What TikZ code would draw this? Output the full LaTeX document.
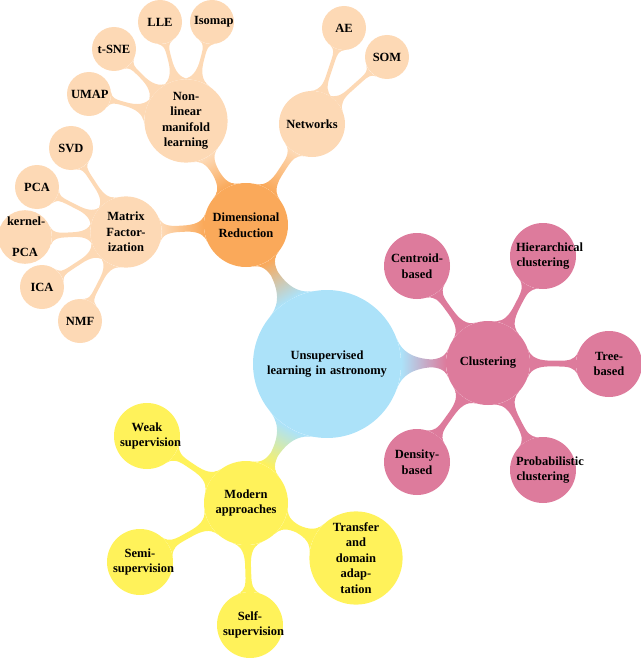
\documentclass[tikz,border=0pt]{standalone}
\usepackage{fontspec}
\setmainfont{Liberation Serif}
\usetikzlibrary{mindmap}
\definecolor{cblue}{RGB}{172,226,249}
\definecolor{corange}{RGB}{250,169,90}
\definecolor{cpeach}{RGB}{253,217,181}
\definecolor{cpink}{RGB}{221,123,156}
\definecolor{cyellow}{RGB}{255,242,90}
\tikzset{
  bubble/.style={circle, inner sep=1.5pt, align=center, text=black,
    font=\fontsize{12.5}{15.5}\selectfont\bfseries},
  rootc/.style={bubble, fill=cblue, minimum size=148pt, text width=122pt},
  lvone/.style={bubble, minimum size=84pt, text width=72pt},
  lvtwo/.style={bubble, minimum size=66pt, text width=54pt},
  lvsmall/.style={bubble, minimum size=44pt, text width=36pt, inner sep=0pt, fill=cpeach},
  bar/.style args={#1/#2/#3}{circle connection bar switch color=from (#1) to (#2), line width=#3}
}
\begin{document}
\begin{tikzpicture}[x=1pt,y=1pt]
\useasboundingbox (0,0) rectangle (640,-658);
% root
\node[rootc] (root) at (327,-364) {Unsupervised\\learning in astronomy};
% level 1
\node[lvone, fill=corange] (dim) at (246,-225) {Dimensional\\Reduction};
\node[lvone, fill=cpink] (clus) at (488,-363) {Clustering};
\node[lvone, fill=cyellow] (mod) at (246,-503) {Modern\\approaches};
% level 2 (dimensional reduction)
\node[lvtwo, fill=cpeach] (nonlin) at (186,-121) {Non-\\linear\\manifold\\learning};
\node[lvtwo, fill=cpeach] (net) at (312,-124) {Networks};
\node[lvtwo, fill=cpeach] (mat) at (126,-232) {Matrix\\Factor-\\ization};
% level 3
\node[lvsmall] (lle) at (160,-22) {LLE};
\node[lvsmall] (iso) at (212,-22) {Isomap};
\node[lvsmall] (tsne) at (114,-49) {t-SNE};
\node[lvsmall] (umap) at (89,-94) {UMAP};
\node[lvsmall] (ae) at (344,-28) {AE};
\node[lvsmall] (som) at (387,-57) {SOM};
\node[lvsmall] (svd) at (71,-148) {SVD};
\node[lvsmall] (pca) at (37,-187) {PCA};
\node[lvsmall] (kpca) at (25,-237) {kernel-\\PCA};
\node[lvsmall] (ica) at (42,-287) {ICA};
\node[lvsmall] (nmf) at (80,-321) {NMF};
% clustering children
\node[lvtwo, fill=cpink] (cen) at (417,-266) {Centroid-\\based};
\node[lvtwo, fill=cpink] (hier) at (543,-256) {Hierarchical\\clustering};
\node[lvtwo, fill=cpink] (tree) at (609,-364) {Tree-\\based};
\node[lvtwo, fill=cpink] (dens) at (417,-462) {Density-\\based};
\node[lvtwo, fill=cpink] (prob) at (543,-470) {Probabilistic\\clustering};
% modern children
\node[lvtwo, fill=cyellow] (weak) at (147,-436) {Weak\\supervision};
\node[lvtwo, fill=cyellow] (semi) at (140,-562) {Semi-\\supervision};
\node[lvtwo, fill=cyellow] (self) at (250,-625) {Self-\\supervision};
\node[lvtwo, fill=cyellow] (trans) at (356,-558) {Transfer\\and\\domain\\adap-\\tation};
% connections
\path (root) to[bar=cblue/corange/12pt] (dim);
\path (root) to[bar=cblue/cpink/12pt] (clus);
\path (root) to[bar=cblue/cyellow/12pt] (mod);
\path (dim) to[bar=corange/cpeach/8pt] (nonlin);
\path (dim) to[bar=corange/cpeach/8pt] (net);
\path (dim) to[bar=corange/cpeach/8pt] (mat);
\foreach \a/\b in {nonlin/lle, nonlin/iso, nonlin/tsne, nonlin/umap, net/ae, net/som,
  mat/svd, mat/pca, mat/kpca, mat/ica, mat/nmf}
  \path (\a) to[bar=cpeach/cpeach/5pt] (\b);
\foreach \b in {cen, hier, tree, dens, prob}
  \path (clus) to[bar=cpink/cpink/6.5pt] (\b);
\foreach \b in {weak, semi, self, trans}
  \path (mod) to[bar=cyellow/cyellow/6.5pt] (\b);
\end{tikzpicture}
\end{document}
